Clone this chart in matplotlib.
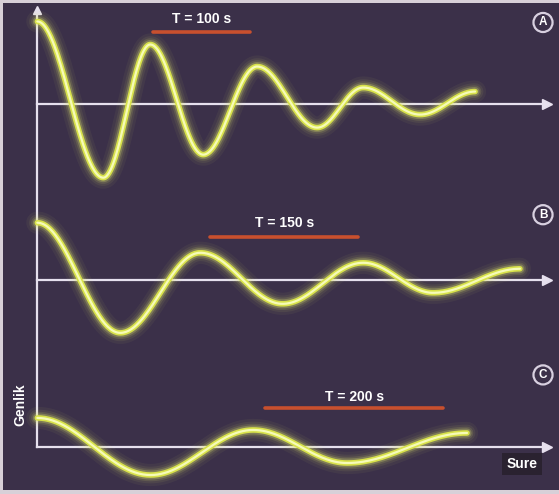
import numpy as np
import matplotlib.pyplot as plt

plt.rcParams['font.family'] = ['Liberation Sans', 'DejaVu Sans']

# extrema of each trace: time (s) and amplitude
a_times = [0, 60, 102.7, 150.9, 200, 254.5, 296.4, 348.2, 398.2]
a_values = [82, -74, 59, -51, 37, -24, 16, -11, 12]
b_times = [0, 75.5, 148.2, 223, 296.4, 360, 439]
b_values = [57, -53, 27, -24, 17, -13, 11]
c_times = [0, 103, 196.4, 281.8, 390.9]
c_values = [29, -28, 17, -16, 14]

labels = ["A", "B", "C"]
period_labels = ["T = 100 s", "T = 150 s", "T = 200 s"]
# span of the red period markers (s)
period_spans = [(105.5, 193.6), (157.3, 291.8), (207.3, 369.1)]

bg = "#3b3049"
axis_col = "#e6e0ee"


def smooth(times, values, n=60):
    ts, vs = [], []
    for k in range(len(times) - 1):
        u = np.linspace(0, 1, n)
        s = (1 - np.cos(np.pi * u)) / 2
        ts.append(times[k] + (times[k + 1] - times[k]) * u)
        vs.append(values[k] + (values[k + 1] - values[k]) * s)
    return np.concatenate(ts), np.concatenate(vs)


fig = plt.figure(figsize=(5.59, 4.94), dpi=100)
fig.patch.set_facecolor("#d8d0d8")
ax = fig.add_axes([0.006, 0.008, 0.994, 0.985])
ax.set_facecolor(bg)
px = 1.1  # pixels per second
x0 = 37
ax.set_xlim(-(x0 - 3) / px, (559 - x0) / px)
ax.set_ylim(490, 4)
ax.axis("off")
ax.add_patch(plt.Rectangle((-40, 0), 600, 500, color=bg, zorder=0))

baselines = [104, 280, 447]
series = [(a_times, a_values), (b_times, b_values), (c_times, c_values)]
x_end = (547 - x0) / px

# axes
ax.plot([0, 0], [baselines[2], 14], color=axis_col, lw=1.6, zorder=2)
ax.plot(0, 11, marker="^", color=axis_col, ms=6, zorder=2)
for base in baselines:
    ax.plot([0, x_end - 4], [base, base], color=axis_col, lw=1.6, zorder=2)
    ax.plot(x_end, base, marker=">", color=axis_col, ms=7, zorder=2)

# glowing traces
for (ts, vs), base in zip(series, baselines):
    t, v = smooth(ts, vs)
    y = base - v
    for lw, al in [(16, 0.05), (12, 0.07), (9, 0.12), (6.5, 0.25)]:
        ax.plot(t, y, color="#e4ee70", lw=lw, alpha=al, solid_capstyle="round", zorder=3)
    ax.plot(t, y, color="#d8e24a", lw=4, solid_capstyle="round", zorder=4)
    ax.plot(t, y, color="#f6fbb8", lw=1.6, solid_capstyle="round", zorder=5)

# period markers
text_y = [20, 223, 397]
line_y = [33, 237, 408]
for lab, (s0, s1), ty, ly in zip(period_labels, period_spans, text_y, line_y):
    ax.plot([s0, s1], [ly, ly], color="#c8502e", lw=2.6, solid_capstyle="round", zorder=4)
    ax.text((s0 + s1) / 2, ty, lab, color="white", fontsize=10, fontweight="bold",
            ha="center", va="center", zorder=6)

# circled letters
letter_y = [23, 215, 375]
for lab, ly in zip(labels, letter_y):
    ax.text((543 - x0) / px, ly, lab, color="white", fontsize=8.5, fontweight="bold",
            ha="center", va="center", zorder=6,
            bbox=dict(boxstyle="circle,pad=0.3", fc=bg, ec="#d8d0e0", lw=1.6))

ax.text(-17 / px, 405, "Genlik", color="white", fontsize=10, fontweight="bold",
        rotation=90, ha="center", va="center", zorder=6)
ax.text((522 - x0) / px, 464, "Sure", color="white", fontsize=10, fontweight="bold",
        ha="center", va="center", zorder=6,
        bbox=dict(boxstyle="square,pad=0.3", fc="#2a2230", ec="none"))

fig.savefig("out.png", dpi=100, facecolor=fig.get_facecolor())
